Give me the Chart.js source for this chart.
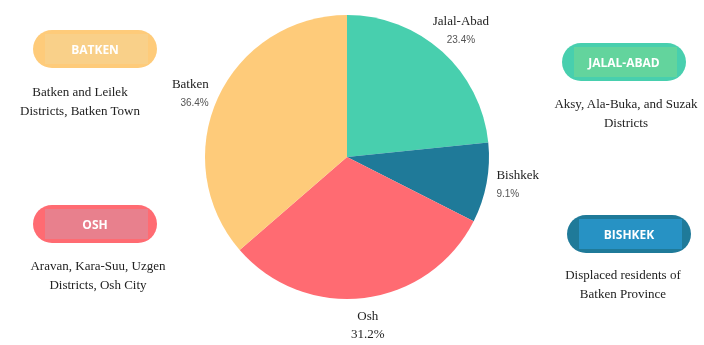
<!DOCTYPE html>
<html>
<head>
<meta charset="utf-8">
<script src="https://cdn.jsdelivr.net/npm/chart.js@4/dist/chart.umd.min.js"></script>
<style>
  body { margin: 0; background: #fff; }
  #wrap { position: relative; width: 704px; height: 345px; }
  #plot { position: absolute; left: 0; top: 0; }
  .pill {
    position: absolute; width: 124px; height: 38px; border-radius: 19px;
    font: bold 12px "Open Sans", sans-serif; color: #fff;
    display: flex; align-items: center; justify-content: center;
  }
  .pill .inner {
    position: absolute; left: 12px; right: 9px; top: 4px; bottom: 4px;
  }
  .pill span { position: relative; }
  .desc {
    position: absolute; width: 160px; text-align: center;
    font: 13px "Liberation Serif", serif; color: #222; line-height: 19px;
  }
</style>
</head>
<body>
<div id="wrap">
  <canvas id="plot" width="704" height="345"></canvas>
</div>
<script>
// slices, clockwise from 12 o'clock
var regions = ["Jalal-Abad", "Bishkek", "Osh", "Batken"];
var shares = [23.4, 9.1, 31.2, 36.4];
var sliceColors = ["#48cfae", "#1f7a99", "#ff6b72", "#fecb7a"];

// side panels
var panelNames = ["BATKEN", "JALAL-ABAD", "OSH", "BISHKEK"];
var panelOuter = ["#fecb7a", "#48cfae", "#ff6b72", "#1f7a99"];
var panelInner = ["#f9d089", "#63d49d", "#e8808d", "#2792c4"];
var panelText = [
  ["Batken and Leilek", "Districts, Batken Town"],
  ["Aksy, Ala-Buka, and Suzak", "Districts"],
  ["Aravan, Kara-Suu, Uzgen", "Districts, Osh City"],
  ["Displaced residents of", "Batken Province"]
];
var pillPos = [[33, 30], [562, 43], [33, 205], [567, 215]];
var descPos = [[0, 82], [546, 94], [18, 256], [543, 265]];

var wrap = document.getElementById("wrap");
for (let i = 0; i < panelNames.length; i++) {
  var pill = document.createElement("div");
  pill.className = "pill";
  pill.style.left = pillPos[i][0] + "px";
  pill.style.top = pillPos[i][1] + "px";
  pill.style.background = panelOuter[i];
  pill.innerHTML = '<div class="inner" style="background:' + panelInner[i] + '"></div><span>' + panelNames[i] + '</span>';
  wrap.appendChild(pill);

  var desc = document.createElement("div");
  desc.className = "desc";
  desc.style.left = descPos[i][0] + "px";
  desc.style.top = descPos[i][1] + "px";
  desc.innerHTML = panelText[i].join("<br>");
  wrap.appendChild(desc);
}

// name + percent next to each slice
const sliceLabels = {
  id: "sliceLabels",
  afterDraw(chart) {
    let ctx = chart.ctx;
    let arcs = chart.getDatasetMeta(0).data;
    ctx.save();
    ctx.textBaseline = "middle";
    arcs.forEach((arc, i) => {
      let mid = (arc.startAngle + arc.endAngle) / 2;
      let c = Math.cos(mid), s = Math.sin(mid);
      let align = "center", r = arc.outerRadius + 28;
      if (c > 0.8) { align = "left"; r = arc.outerRadius + 10; }
      else if (c < -0.8) { align = "right"; r = arc.outerRadius + 10; }
      let x = arc.x + c * r;
      let y = arc.y + s * r;
      ctx.textAlign = align;
      ctx.fillStyle = "#222";
      ctx.font = '13px "Liberation Serif", serif';
      ctx.fillText(regions[i], x, y - 9);
      let pct = shares[i].toFixed(1) + "%";
      if (regions[i] === "Osh") {
        ctx.fillText(pct, x, y + 9);
      } else {
        ctx.fillStyle = "#555";
        ctx.font = '10px "Liberation Sans", sans-serif';
        ctx.fillText(pct, x, y + 9);
      }
    });
    ctx.restore();
  }
};

new Chart(document.getElementById("plot").getContext("2d"), {
  type: "pie",
  data: {
    labels: regions,
    datasets: [{
      data: shares,
      backgroundColor: sliceColors,
      borderWidth: 0
    }]
  },
  options: {
    responsive: false,
    animation: false,
    layout: { padding: { top: 15, bottom: 46, left: 100, right: 110 } },
    plugins: {
      legend: { display: false },
      tooltip: { enabled: false }
    }
  },
  plugins: [sliceLabels]
});
</script>
</body>
</html>
